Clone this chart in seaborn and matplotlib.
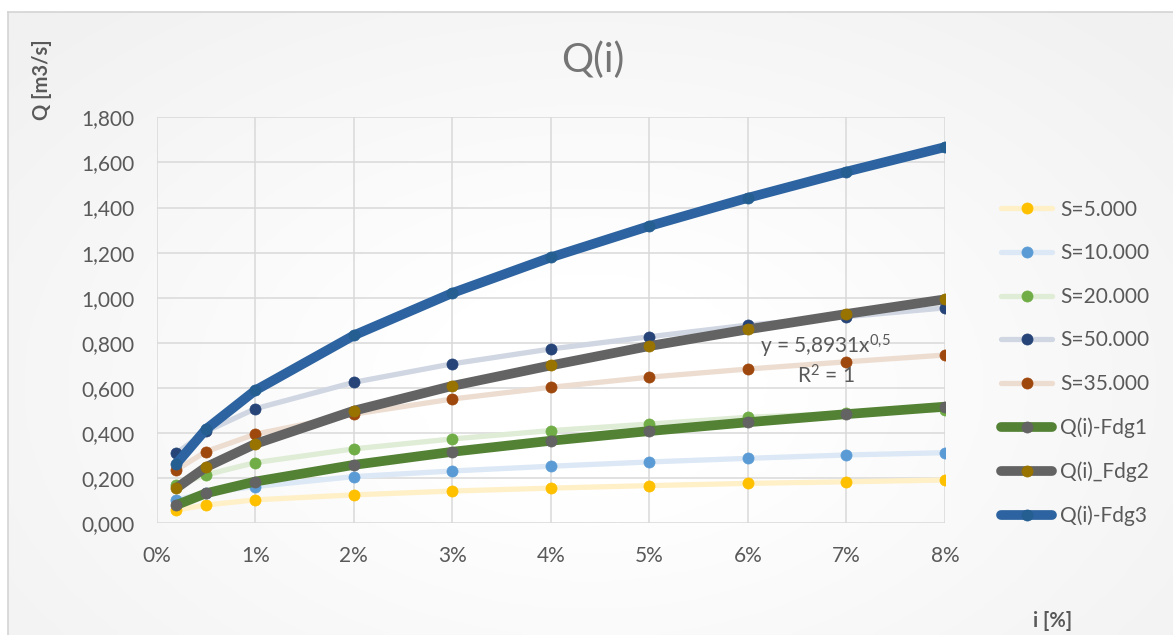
import numpy as np
import pandas as pd
import matplotlib
matplotlib.use("Agg")
import matplotlib.pyplot as plt
from matplotlib.colors import LinearSegmentedColormap
import seaborn as sns

# ---------------- data ----------------
slope_pct = [0.2, 0.5, 1, 2, 3, 4, 5, 6, 7, 8]

s5000 = [0.059, 0.081, 0.104, 0.126, 0.143, 0.156, 0.167, 0.177, 0.184, 0.192]
s10000 = [0.104, 0.135, 0.163, 0.207, 0.232, 0.253, 0.272, 0.288, 0.303, 0.313]
s20000 = [0.170, 0.215, 0.269, 0.330, 0.374, 0.411, 0.440, 0.470, 0.488, 0.504]
s50000 = [0.311, 0.407, 0.508, 0.625, 0.707, 0.773, 0.827, 0.879, 0.916, 0.955]
s35000 = [0.237, 0.318, 0.395, 0.484, 0.551, 0.603, 0.648, 0.684, 0.716, 0.746]
fdg1 = [0.081, 0.133, 0.185, 0.259, 0.317, 0.366, 0.409, 0.448, 0.484, 0.517]
fdg2 = [0.156, 0.249, 0.352, 0.499, 0.609, 0.700, 0.786, 0.860, 0.928, 0.993]
fdg3 = [0.264, 0.417, 0.589, 0.833, 1.021, 1.179, 1.318, 1.443, 1.559, 1.668]

labels = ["S=5.000", "S=10.000", "S=20.000", "S=50.000", "S=35.000",
          "Q(i)-Fdg1", "Q(i)_Fdg2", "Q(i)-Fdg3"]
y_ticks = [0.0, 0.2, 0.4, 0.6, 0.8, 1.0, 1.2, 1.4, 1.6, 1.8]
x_ticks = [0, 1, 2, 3, 4, 5, 6, 7, 8]

title = "Q(i)"
ylabel = "Q [m3/s]"
xlabel = "i [%]"
trend_eq = r"y = 5,8931x$^{0{,}5}$"
trend_r2 = r"R$^{2}$ = 1"

# ---------------- styles ----------------
series = [s5000, s10000, s20000, s50000, s35000, fdg1, fdg2, fdg3]
line_colors = ["#FFF0C8", "#DCE8F5", "#DFECD6", "#D0D7E3", "#EDDDD1",
               "#548235", "#636363", "#2C63A0"]
marker_colors = ["#FFC000", "#5B9BD5", "#70AD47", "#264478", "#9E480E",
                 "#636363", "#997300", "#255E91"]
line_widths = [3.8, 3.8, 3.8, 3.8, 3.8, 7.0, 7.0, 7.0]

sns.set_theme(style="white")
plt.rcParams["font.family"] = ["Lato", "DejaVu Sans"]
plt.rcParams["mathtext.fontset"] = "custom"
plt.rcParams["mathtext.rm"] = "Lato"
plt.rcParams["mathtext.it"] = "Lato"
plt.rcParams["mathtext.bf"] = "Lato:bold"

W, H = 1173, 635
fig = plt.figure(figsize=(W / 100, H / 100), dpi=100)
fig.patch.set_facecolor("white")

# chart-area background with subtle gradient and border
bg = fig.add_axes([8 / W, 0, 1 - 8 / W, 1 - 11.5 / H], zorder=-10)
yy, xx = np.mgrid[0:1:200j, 0:1:400j]
rad = np.sqrt(((xx - 0.5) / 0.75) ** 2 + ((yy - 0.6) / 0.9) ** 2)
cmap = LinearSegmentedColormap.from_list("bg", ["#ffffff", "#f1f1f1"])
bg.imshow(rad, cmap=cmap, aspect="auto", extent=[0, 1, 0, 1], vmin=0.2, vmax=0.9)
bg.set_xlim(0, 1)
bg.set_ylim(0, 1)
bg.set_xticks([])
bg.set_yticks([])
for side, sp in bg.spines.items():
    sp.set_visible(side in ("top", "left"))
    sp.set_color("#d4d4d4")
    sp.set_linewidth(1.2)

# plot area
ax = fig.add_axes([156.7 / W, 1 - 523.3 / H, (945 - 156.7) / W, (523.3 - 117.3) / H])
ax.patch.set_alpha(0)

for vals, lab, lc, mc, lw in zip(series, labels, line_colors, marker_colors, line_widths):
    sns.lineplot(x=slope_pct, y=vals, ax=ax, color=lc, linewidth=lw,
                 marker="o", markersize=8, markerfacecolor=mc,
                 markeredgecolor=mc, markeredgewidth=0.5, label=lab,
                 solid_capstyle="round", solid_joinstyle="round")

ax.set_xlim(0, 8)
ax.set_ylim(0, 1.8)
ax.set_xticks(x_ticks)
ax.set_xticklabels([f"{t}%" for t in x_ticks])
ax.set_yticks(y_ticks)
ax.set_yticklabels([f"{t:.3f}".replace(".", ",") for t in y_ticks])
ax.tick_params(axis="both", length=0, pad=16, labelsize=15, labelcolor="#595959")
ax.grid(True, color="#d9d9d9", linewidth=1.1)
ax.set_axisbelow(True)
for sp in ax.spines.values():
    sp.set_visible(False)
ax.set_xlabel("")
ax.set_ylabel("")

# trendline annotation
ax.text(6.79, 0.783, trend_eq, ha="center", va="center", fontsize=15, color="#595959")
ax.text(6.79, 0.653, trend_r2, ha="center", va="center", fontsize=15, color="#595959")

# legend
handles, hlabels = ax.get_legend_handles_labels()
if ax.legend_ is not None:
    ax.legend_.remove()
fig.legend(handles, hlabels, loc="center left",
           bbox_to_anchor=(1001 / W, 1 - 363 / H), frameon=False,
           fontsize=15, labelcolor="#595959", handlelength=2.45,
           handletextpad=0.4, labelspacing=1.13, borderpad=0,
           borderaxespad=0, numpoints=1)

# titles
fig.text(593 / W, 1 - 60 / H, title, ha="center", va="center", fontsize=29, color="#757575")
fig.text(42 / W, 1 - 80 / H, ylabel, ha="center", va="center", rotation=90,
         fontsize=14.5, fontweight="bold", color="#595959")
fig.text(1053 / W, 1 - 621 / H, xlabel, ha="center", va="center",
         fontsize=14.5, fontweight="bold", color="#595959")

fig.savefig("out.png", dpi=100, facecolor=fig.get_facecolor())
